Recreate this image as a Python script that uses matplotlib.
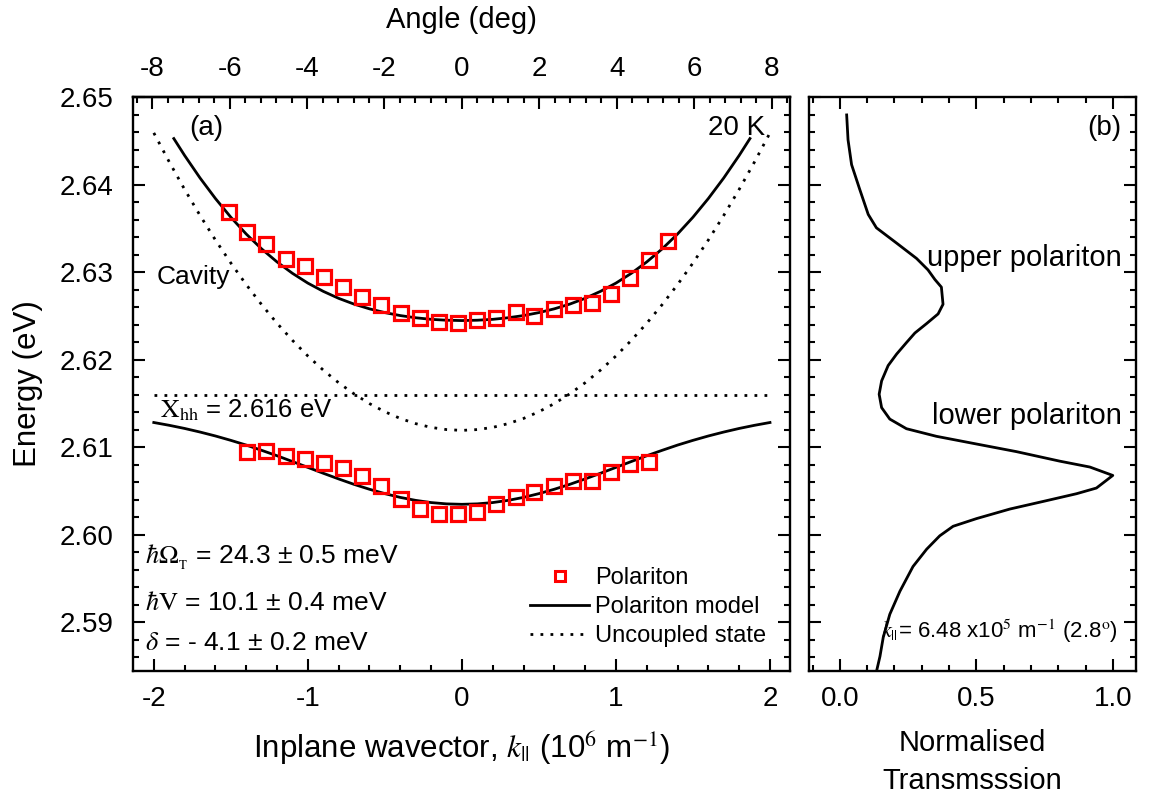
import matplotlib
matplotlib.use("Agg")
import matplotlib.pyplot as plt
from matplotlib.ticker import MultipleLocator, FormatStrFormatter
from matplotlib.lines import Line2D

plt.rcParams['font.family'] = ['Liberation Sans', 'DejaVu Sans']
plt.rcParams['mathtext.fontset'] = 'stix'
plt.rcParams['axes.unicode_minus'] = False

# ---- measured polariton energies (k in 1e6 m^-1, E in eV) ----
k_up_meas = [-1.514, -1.395, -1.269, -1.142, -1.018, -0.894, -0.773, -0.647,
             -0.523, -0.396, -0.275, -0.151, -0.024, 0.100, 0.223, 0.350,
             0.471, 0.598, 0.722, 0.846, 0.967, 1.091, 1.215, 1.339]
E_up_meas = [2.6369, 2.6346, 2.6332, 2.6315, 2.6307, 2.6294, 2.6283, 2.6272,
             2.6262, 2.6253, 2.6248, 2.6243, 2.6242, 2.6245, 2.6248, 2.6254,
             2.6250, 2.6258, 2.6262, 2.6265, 2.6275, 2.6293, 2.6314, 2.6335]

k_lo_meas = [-1.395, -1.269, -1.142, -1.018, -0.894, -0.773, -0.647, -0.523,
             -0.396, -0.275, -0.151, -0.024, 0.100, 0.223, 0.350, 0.471,
             0.598, 0.722, 0.846, 0.967, 1.091, 1.215]
E_lo_meas = [2.6094, 2.6095, 2.6090, 2.6086, 2.6082, 2.6076, 2.6067, 2.6055,
             2.6041, 2.6029, 2.6024, 2.6024, 2.6026, 2.6035, 2.6043, 2.6049,
             2.6056, 2.6061, 2.6061, 2.6071, 2.6081, 2.6083]

# ---- polariton model and uncoupled states ----
k_model = [-2.0, -1.9, -1.8, -1.7, -1.6, -1.5, -1.4, -1.3, -1.2, -1.1, -1.0,
           -0.9, -0.8, -0.7, -0.6, -0.5, -0.4, -0.3, -0.2, -0.1, 0.0,
           0.1, 0.2, 0.3, 0.4, 0.5, 0.6, 0.7, 0.8, 0.9, 1.0,
           1.1, 1.2, 1.3, 1.4, 1.5, 1.6, 1.7, 1.8, 1.9, 2.0]
E_lo_model = [2.61280, 2.61248, 2.61212, 2.61171, 2.61126, 2.61076, 2.61022,
              2.60962, 2.60900, 2.60834, 2.60767, 2.60700, 2.60635, 2.60573,
              2.60517, 2.60467, 2.60424, 2.60390, 2.60365, 2.60350, 2.60345,
              2.60350, 2.60365, 2.60390, 2.60424, 2.60467, 2.60517, 2.60573,
              2.60635, 2.60700, 2.60767, 2.60834, 2.60900, 2.60962, 2.61022,
              2.61076, 2.61126, 2.61171, 2.61212, 2.61248, 2.61280]
E_cavity = [2.64590, 2.64259, 2.63944, 2.63647, 2.63366, 2.63103, 2.62856,
            2.62627, 2.62414, 2.62219, 2.62040, 2.61879, 2.61734, 2.61607,
            2.61496, 2.61403, 2.61326, 2.61267, 2.61224, 2.61199, 2.61190,
            2.61199, 2.61224, 2.61267, 2.61326, 2.61403, 2.61496, 2.61607,
            2.61734, 2.61879, 2.62040, 2.62219, 2.62414, 2.62627, 2.62856,
            2.63103, 2.63366, 2.63647, 2.63944, 2.64259, 2.64590]

k_up_model = [-1.87, -1.8, -1.7, -1.6, -1.5, -1.4, -1.3, -1.2, -1.1, -1.0,
              -0.9, -0.8, -0.7, -0.6, -0.5, -0.4, -0.3, -0.2, -0.1, 0.0,
              0.1, 0.2, 0.3, 0.4, 0.5, 0.6, 0.7, 0.8, 0.9, 1.0,
              1.1, 1.2, 1.3, 1.4, 1.5, 1.6, 1.7, 1.8, 1.87]
E_up_model = [2.64525, 2.64332, 2.64075, 2.63840, 2.63626, 2.63434, 2.63264,
              2.63115, 2.62985, 2.62873, 2.62779, 2.62699, 2.62633, 2.62579,
              2.62536, 2.62502, 2.62477, 2.62459, 2.62449, 2.62445,
              2.62449, 2.62459, 2.62477, 2.62502, 2.62536, 2.62579, 2.62633,
              2.62699, 2.62779, 2.62873, 2.62985, 2.63115, 2.63264, 2.63434,
              2.63626, 2.63840, 2.64075, 2.64332, 2.64525]

k_exciton = [-2.0, 2.0]
E_exciton = [2.616, 2.616]

ANGLE_PER_K = 3.98   # degrees per 1e6 m^-1

# ---- transmission spectrum at k = 6.48e5 m^-1 ----
E_spec = [2.64795, 2.64511, 2.64227, 2.63943, 2.63658, 2.63505, 2.63330,
          2.63155, 2.63024, 2.62915, 2.62827, 2.62631, 2.62521, 2.62411,
          2.62303, 2.62193, 2.62062, 2.61931, 2.61755, 2.61603, 2.61450,
          2.61319, 2.61209, 2.61122, 2.61034, 2.60947, 2.60838, 2.60771,
          2.60675, 2.60531, 2.60466, 2.60378, 2.60291, 2.60182, 2.60094,
          2.59985, 2.59832, 2.59634, 2.59351, 2.59088, 2.58825, 2.58607,
          2.58432]
T_spec = [0.025, 0.030, 0.043, 0.073, 0.104, 0.134, 0.208, 0.281, 0.323,
          0.348, 0.372, 0.378, 0.360, 0.318, 0.275, 0.244, 0.208, 0.177,
          0.153, 0.144, 0.153, 0.183, 0.244, 0.354, 0.501, 0.647, 0.806,
          0.916, 1.000, 0.940, 0.867, 0.745, 0.623, 0.501, 0.415, 0.366,
          0.318, 0.268, 0.220, 0.183, 0.159, 0.147, 0.134]

W, H = 1151, 800
fig = plt.figure(figsize=(W / 100, H / 100), dpi=100)

y0, y1 = 97, 671
ax1 = fig.add_axes([133 / W, 1 - y1 / H, (790 - 133) / W, (y1 - y0) / H])
ax2 = fig.add_axes([809 / W, 1 - y1 / H, (1136 - 809) / W, (y1 - y0) / H])

TICK_FS = 20
LABEL_FS = 22.5
LW = 2.0
dots = (0, (1, 2.6))
RED = '#ff0000'

# ---- panel (a): dispersion ----
ax1.plot(k_model, E_cavity, color='k', lw=LW, ls=dots)
ax1.plot(k_exciton, E_exciton, color='k', lw=LW, ls=dots)
ax1.plot(k_up_model, E_up_model, color='k', lw=LW)
ax1.plot(k_model, E_lo_model, color='k', lw=LW)
ax1.plot(k_up_meas, E_up_meas, ls='none', marker='s', ms=9.5, mfc='none',
         mec=RED, mew=2.3)
ax1.plot(k_lo_meas, E_lo_meas, ls='none', marker='s', ms=9.5, mfc='none',
         mec=RED, mew=2.3)

ax1.set_xlim(-2.135, 2.13)
ax1.set_ylim(2.5844, 2.65)

ax1.xaxis.set_major_locator(MultipleLocator(1))
ax1.xaxis.set_minor_locator(MultipleLocator(0.2))
ax1.xaxis.set_major_formatter(FormatStrFormatter('%d'))
ax1.yaxis.set_major_locator(MultipleLocator(0.01))
ax1.yaxis.set_minor_locator(MultipleLocator(0.002))
ax1.yaxis.set_major_formatter(FormatStrFormatter('%.2f'))

for ax in (ax1, ax2):
    ax.tick_params(which='both', direction='in', width=1.5, labelsize=TICK_FS,
                   left=True, right=True, bottom=True)
    ax.tick_params(which='major', length=8.5)
    ax.tick_params(which='minor', length=4.5)
    ax.tick_params(axis='x', which='major', pad=11)
    ax.tick_params(axis='y', which='major', pad=14)
    for s in ax.spines.values():
        s.set_linewidth(1.7)
ax1.tick_params(which='both', top=False)
ax2.tick_params(which='both', top=True, labelleft=False)

ax1.set_xlabel(r'Inplane wavector, $k_{||}$ (10$^6$ m$^{-1}$)', fontsize=LABEL_FS,
               labelpad=12)
ax1.set_ylabel('Energy (eV)', fontsize=LABEL_FS, labelpad=12)

sec = ax1.secondary_xaxis('top', functions=(lambda k: k * ANGLE_PER_K,
                                            lambda a: a / ANGLE_PER_K))
sec.set_xticks(range(-8, 9, 2))
sec.xaxis.set_minor_locator(MultipleLocator(0.4))
sec.xaxis.set_major_formatter(FormatStrFormatter('%d'))
sec.tick_params(which='both', direction='in', width=1.5, labelsize=TICK_FS)
sec.tick_params(which='major', length=8.5, pad=11)
sec.tick_params(which='minor', length=4.5)
sec.spines['top'].set_linewidth(1.7)
sec.set_xlabel('Angle (deg)', fontsize=21, labelpad=20)

TXT_FS = 20
ax1.text(-1.66, 2.6465, '(a)', fontsize=TXT_FS, ha='center', va='center')
ax1.text(1.97, 2.6465, '20 K', fontsize=TXT_FS, ha='right', va='center')
ax1.text(-1.98, 2.6294, 'Cavity', fontsize=19, ha='left', va='center')
ax1.text(-1.96, 2.6142, r'$\mathrm{X_{hh}}$ = 2.616 eV', fontsize=18.5,
         ha='left', va='center')

PAR_FS = 19
ax1.text(-2.06, 2.5974, r'$\hbar\Omega_{_\mathrm{T}}$ = 24.3 ± 0.5 meV',
         fontsize=PAR_FS, ha='left', va='center')
ax1.text(-2.06, 2.5922, r'$\hbar\mathrm{V}$ = 10.1 ± 0.4 meV',
         fontsize=PAR_FS, ha='left', va='center')
ax1.text(-2.06, 2.5876, r'$\delta$ = - 4.1 ± 0.2 meV',
         fontsize=PAR_FS, ha='left', va='center')

handles = [
    Line2D([], [], ls='none', marker='s', ms=7.5, mfc='none', mec=RED, mew=2.2),
    Line2D([], [], color='k', lw=LW),
    Line2D([], [], color='k', lw=LW, ls=dots),
]
ax1.legend(handles, ['Polariton', 'Polariton model', 'Uncoupled state'],
           loc='center left', bbox_to_anchor=((530 - 133) / 657, (671 - 607) / 574),
           frameon=False, fontsize=17, handlelength=2.5, handletextpad=0.25,
           borderpad=0, borderaxespad=0, labelspacing=0.3)

# ---- panel (b): transmission ----
ax2.plot(T_spec, E_spec, color='k', lw=LW)
ax2.set_xlim(-0.113, 1.085)
ax2.set_ylim(2.5844, 2.65)
ax2.xaxis.set_major_locator(MultipleLocator(0.5))
ax2.xaxis.set_minor_locator(MultipleLocator(0.1))
ax2.xaxis.set_major_formatter(FormatStrFormatter('%.1f'))
ax2.yaxis.set_major_locator(MultipleLocator(0.01))
ax2.yaxis.set_minor_locator(MultipleLocator(0.002))
ax2.set_xlabel('Normalised\nTransmsssion', fontsize=21, labelpad=12,
               linespacing=1.45)

ax2.text(1.03, 2.6465, '(b)', fontsize=TXT_FS, ha='right', va='center')
ax2.text(1.033, 2.6316, 'upper polariton', fontsize=21, ha='right', va='center')
ax2.text(1.033, 2.6135, 'lower polariton', fontsize=21, ha='right', va='center')
ax2.text(1.018, 2.5889, r'$k_{||}$= 6.48 x10$^5$ m$^{-1}$ (2.8$^{\rm o}$)',
         fontsize=16, ha='right', va='center')

fig.savefig('out.png', dpi=100)
